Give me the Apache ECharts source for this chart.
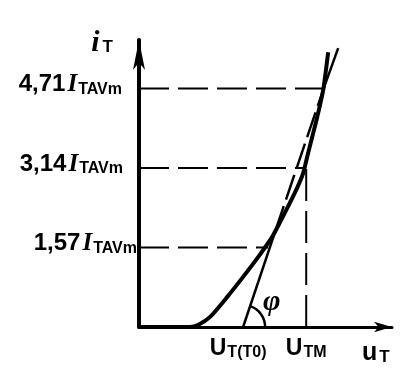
<!DOCTYPE html>
<html><head><meta charset="utf-8">
<script src="https://cdn.jsdelivr.net/npm/echarts@6/dist/echarts.min.js"></script>
<style>html,body{margin:0;padding:0;background:#fff}#c{width:414px;height:389px}</style>
</head><body><div id="c"></div>
<script>
// Axis ranges (U in units of U_T(T0), i in units of I_TAVm)
const xMax = 2.43, yMax = 5.67;
// current levels and their labels
const levels = [1.57, 3.14, 4.71];
const levelLabels = ['1,57', '3,14', '4,71'];
// where each dashed level line meets the curve
const levelEnds = [1.24, 1.60, 1.77];
// voltage marks
const uT0 = 1.0, uTM = 1.606;
// forward characteristic i_T(u_T)
const curveU = [0, 0.49, 0.567, 0.683, 0.846, 1.0, 1.144, 1.279, 1.404, 1.519, 1.577, 1.615, 1.663, 1.712, 1.769, 1.817];
const curveI = [0, 0, 0.04, 0.20, 0.59, 0.99, 1.38, 1.78, 2.27, 2.75, 3.04, 3.36, 3.75, 4.15, 4.68, 5.43];
// straight-line approximation (through U_T(T0))
const secU = [1.0, 1.31, 1.78, 1.913];
const secI = [0, 1.9, 4.75, 5.51];

const curve = curveU.map((u, k) => [u, curveI[k]]);
const series = [];
series.push({type:'line', data: curve, smooth: 0.2, symbol:'none', lineStyle:{color:'#000', width:4}, z:5});
series.push({type:'line', data: [[secU[0],secI[0]],[secU[1],secI[1]]], symbol:'none', lineStyle:{color:'#000', width:2.5}, z:4});
series.push({type:'line', data: [[secU[1],secI[1]],[secU[2],secI[2]]], symbol:'none', lineStyle:{color:'#000', width:2.5, type:[26,7]}, z:4});
series.push({type:'line', data: [[secU[2],secI[2]],[secU[3],secI[3]]], symbol:'none', lineStyle:{color:'#000', width:2.5}, z:4});
levels.forEach((lv, k) => {
  series.push({type:'line', data: [[0, lv], [levelEnds[k], lv]], symbol:'none', lineStyle:{color:'#000', width:2, type:[30,9]}, z:3});
});
series.push({type:'line', data: [[uTM, 0], [uTM, levels[1]]], symbol:'none', lineStyle:{color:'#000', width:2, type:[32,10]}, z:3});

const F = 'Liberation Sans';
const chart = echarts.init(document.getElementById('c'), null, {renderer:'canvas'});
const labelPad = [0, 14, 15];
chart.setOption({
  animation: false,
  backgroundColor: '#fff',
  grid: {left: 139, right: 22, top: 40, bottom: 62},
  xAxis: {
    type: 'value', min: 0, max: xMax,
    axisLine: {show: true, onZero: false, symbol: ['none', 'arrow'], symbolSize: [8, 18], lineStyle: {color: '#000', width: 3}},
    axisTick: {show: false}, splitLine: {show: false},
    axisLabel: {
      customValues: [uT0, uTM], margin: 9, color: '#000',
      formatter: v => v === uT0 ? '{u|U}{s|T(T0)}{p|}' : '{u|U}{s|TM}',
      rich: {
        u: {fontFamily: F, fontWeight: 'bold', fontSize: 23, color:'#000'},
        s: {fontFamily: F, fontWeight: 'bold', fontSize: 16, color:'#000', padding: [9, 0, 0, 1]},
        p: {width: 10}
      }
    },
    name: '{u|u}{s|T}', nameLocation: 'end', nameGap: -30,
    nameTextStyle: {verticalAlign: 'top', padding: [14, 0, 0, 0],
      rich: {
        u: {fontFamily: F, fontWeight: 'bold', fontSize: 25, color:'#000'},
        s: {fontFamily: F, fontWeight: 'bold', fontSize: 17, color:'#000', padding: [8, 0, 0, 2]}
      }}
  },
  yAxis: {
    type: 'value', min: 0, max: yMax,
    axisLine: {show: true, symbol: ['none', 'arrow'], symbolSize: [9, 30], lineStyle: {color: '#000', width: 4}},
    axisTick: {show: false}, splitLine: {show: false},
    axisLabel: {
      customValues: levels, margin: 2, color: '#000', padding: [0, 0, 8, 0],
      formatter: v => { const k = levels.indexOf(v); return '{n|' + levelLabels[k] + '}{i|I}{s|TAVm}{p' + k + '|}'; },
      rich: {
        n: {fontFamily: F, fontWeight: 'bold', fontSize: 24, color:'#000'},
        i: {fontFamily: 'Liberation Serif', fontStyle: 'italic', fontWeight: 'bold', fontSize: 25, color:'#000', padding:[0,1,0,2]},
        s: {fontFamily: F, fontWeight: 'bold', fontSize: 16, color:'#000', padding: [10, 0, 0, 0]},
        p0: {width: labelPad[0]}, p1: {width: labelPad[1]}, p2: {width: labelPad[2]}
      }
    },
    name: '{i|i}{s|T}', nameLocation: 'end', nameGap: -18,
    nameTextStyle: {align: 'right', verticalAlign: 'bottom', padding: [0, 26, 0, 0],
      rich: {
        i: {fontFamily: 'Liberation Serif', fontStyle: 'italic', fontWeight: 'bold', fontSize: 30, color:'#000'},
        s: {fontFamily: F, fontWeight: 'bold', fontSize: 17, color:'#000', padding: [9, 0, 0, 3]}
      }}
  },
  series: series
});

// angle phi between the approximation line and the u axis
const c0 = chart.convertToPixel({gridIndex: 0}, [secU[0], secI[0]]);
const c1 = chart.convertToPixel({gridIndex: 0}, [secU[3], secI[3]]);
const ang = Math.atan2(c1[1] - c0[1], c1[0] - c0[0]);
chart.setOption({
  graphic: [
    {type: 'arc', shape: {cx: c0[0], cy: c0[1], r: 22, startAngle: ang, endAngle: 0}, style: {stroke: '#000', lineWidth: 2.5, fill: null}, z: 10},
    {type: 'text', x: c0[0] + 20, y: c0[1] - 40, style: {text: 'φ', fontFamily: 'Liberation Serif', fontStyle: 'italic', fontWeight: 'bold', fontSize: 30, fill: '#000'}, z: 10}
  ]
});
</script></body></html>
